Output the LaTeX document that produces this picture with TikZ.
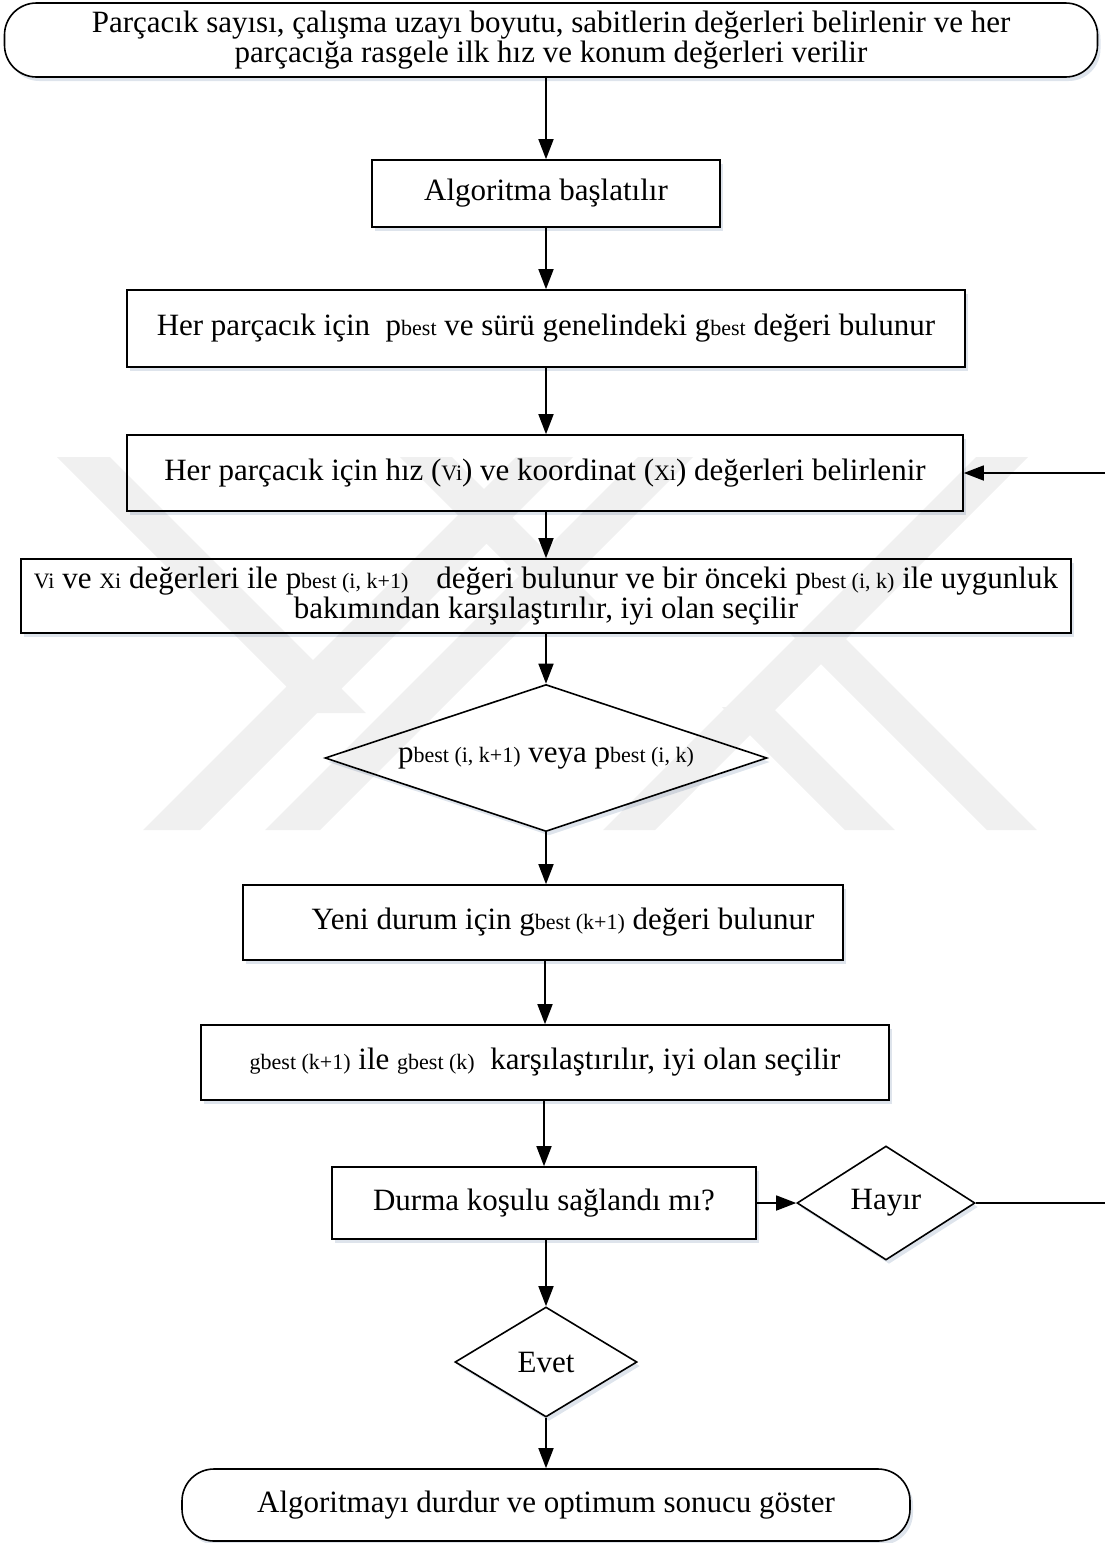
\documentclass[tikz,border=0pt]{standalone}
\usepackage{fontspec}
\setmainfont{Liberation Serif}
\usetikzlibrary{arrows.meta,shapes.geometric,shadows}
\definecolor{wmgray}{RGB}{240,240,240}
\definecolor{shadecol}{RGB}{218,225,234}
% smaller type for indices such as "best (i, k)"
\newcommand\sm[1]{{\fontsize{22}{23}\selectfont #1}}
\begin{document}
\begin{tikzpicture}[x=1pt,y=-1pt,
  font=\fontsize{31}{30}\selectfont,
  base/.style={draw=black, line width=1.6pt, fill=white, inner sep=0pt, align=center,
    drop shadow={shadow xshift=3pt, shadow yshift=-4pt, fill=shadecol, opacity=0.9}},
  procbox/.style={base, rectangle},
  termbox/.style={base, rectangle, rounded corners=32pt},
  decision/.style={base, diamond, shape aspect=#1},
  decision/.default=1.6,
  arr/.style={line width=1.6pt, -{Triangle[length=20pt,width=15pt]}},
  band/.style={fill=wmgray, draw=none}]
\useasboundingbox (0,0) rectangle (1104,1543);

% flow steps
\node[termbox, minimum width=1093pt, minimum height=74pt] (start) at (551,40)
  {Parçacık sayısı, çalışma uzayı boyutu, sabitlerin değerleri belirlenir ve her\\
   parçacığa rasgele ilk hız ve konum değerleri verilir};
\node[procbox, minimum width=348pt, minimum height=67pt] (algo) at (546,193.5)
  {Algoritma başlatılır};
\node[procbox, minimum width=838pt, minimum height=77pt] (pbest) at (546,328.5)
  {Her parçacık için \ p\sm{best} ve sürü genelindeki g\sm{best} değeri bulunur};
\node[procbox, minimum width=836pt, minimum height=76pt] (hiz) at (545,473)
  {Her parçacık için hız (\sm{Vi}) ve koordinat (\sm{Xi}) değerleri belirlenir};
\node[procbox, minimum width=1050pt, minimum height=74pt] (eval) at (546,596)
  {\sm{Vi} ve \sm{Xi} değerleri ile p\sm{best (i, k+1)}\hspace{28pt}değeri bulunur ve bir önceki p\sm{best (i, k)} ile uygunluk\\
   bakımından karşılaştırılır, iyi olan seçilir};
\node[decision=3, minimum width=442pt, minimum height=147pt] (choice) at (546,758)
  {p\sm{best (i, k+1)} veya p\sm{best (i, k)}};
\node[procbox, minimum width=600pt, minimum height=75pt] (gnew) at (543,922.5)
  {\hspace{40pt}Yeni durum için g\sm{best (k+1)} değeri bulunur};
\node[procbox, minimum width=688pt, minimum height=75pt] (gcomp) at (545,1062.5)
  {\sm{gbest (k+1)} ile \sm{gbest (k)}\ \ karşılaştırılır, iyi olan seçilir};
\node[procbox, minimum width=424pt, minimum height=72pt] (stop) at (544,1203)
  {Durma koşulu sağlandı mı?};
\node[decision, minimum width=178pt, minimum height=114pt] (no) at (886,1203)
  {Hayır};
\node[decision, minimum width=182pt, minimum height=110pt] (yes) at (546,1362)
  {Evet};
\node[termbox, minimum width=728pt, minimum height=72pt] (finish) at (546,1505)
  {Algoritmayı durdur ve optimum sonucu göster};

% connectors
\draw[arr] (start.south -| algo.north) -- (algo.north);
\draw[arr] (algo) -- (pbest);
\draw[arr] (pbest) -- (pbest.south |- hiz.north);
\draw[arr] (hiz.south -| eval.north) -- (eval.north);
\draw[arr] (eval) -- (choice);
\draw[arr] (choice) -- (choice.south |- gnew.north);
\draw[arr] (gnew.south -| gcomp.north) -- (gcomp.north);
\draw[arr] (gcomp.south -| stop.north) -- (stop.north);
\draw[arr] (stop) -- (no);
\draw[arr] (stop.south -| yes.north) -- (yes.north);
\draw[arr] (yes) -- (finish);
\coordinate (loopB) at (1110,1203);
\coordinate (loopT) at (1110,473);
\draw[arr] (no.east) -- (loopB) -- (loopT) -- (hiz.east);

% faint emblem in the background; one path, every band wound the same way
\begin{scope}[blend mode=multiply]
  \fill[band, nonzero rule]
    (57,457)  -- (110,457)  -- (366,713)  -- (313,713) -- cycle
    (516,457) -- (573,457)  -- (200,830)  -- (143,830) -- cycle
    (400,457) -- (452,457)  -- (600,605)  -- (548,605) -- cycle
    (638,457) -- (693,457)  -- (320,830)  -- (265,830) -- cycle
    (976,457) -- (1028,457) -- (655,830)  -- (603,830) -- cycle
    (790,633) -- (840,633)  -- (1037,830) -- (987,830) -- cycle
    (722,707) -- (772,707)  -- (895,830)  -- (845,830) -- cycle;
\end{scope}
\end{tikzpicture}
\end{document}
